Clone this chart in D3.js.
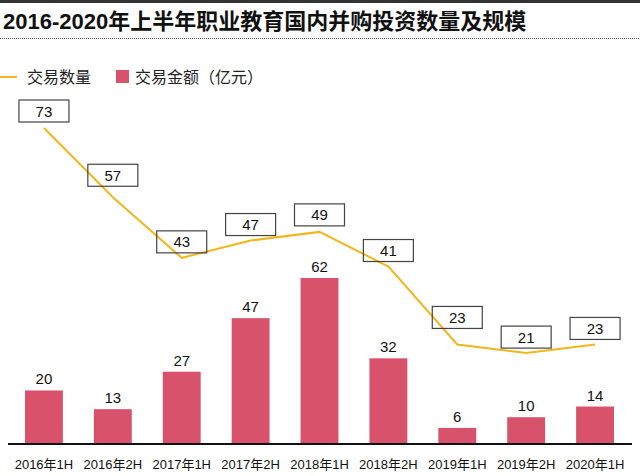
<!DOCTYPE html>
<html>
<head>
<meta charset="utf-8">
<script src="https://cdn.jsdelivr.net/npm/d3@7"></script>
<style>
  html, body { margin: 0; padding: 0; background: #fff; }
  svg { display: block; font-family: "Liberation Sans", Arial, "Noto Sans CJK SC", sans-serif; }
</style>
</head>
<body>
<svg id="chart" width="640" height="476"></svg>
<script>
const title = "2016-2020年上半年职业教育国内并购投资数量及规模";
const categories = ["2016年1H","2016年2H","2017年1H","2017年2H","2018年1H","2018年2H","2019年1H","2019年2H","2020年1H"];
const dealCount = [73, 57, 43, 47, 49, 41, 23, 21, 23];
const dealAmount = [20, 13, 27, 47, 62, 32, 6, 10, 14];
const seriesNames = ["交易数量", "交易金额（亿元）"];

const lineColor = "#F2B61B";
const barColor = "#D9526C";
// extra vertical offset of label boxes above points (hand placed in original)
const boxLift = [17, 22, 16, 16, 17, 16, 27, 16, 16];

const svg = d3.select("#chart");
const baseY = 444;

// top border and title
svg.append("rect").attr("x", 0).attr("y", 0).attr("width", 640).attr("height", 3).attr("fill", "#333");
svg.append("text").attr("x", 3).attr("y", 29).attr("font-size", 22).attr("font-weight", "bold")
  .attr("fill", "#111").text(title);
svg.append("line").attr("x1", 0).attr("x2", 640).attr("y1", 38.5).attr("y2", 38.5)
  .attr("stroke", "#555").attr("stroke-width", 1).attr("stroke-dasharray", "1,1");

// legend
const lg = svg.append("g");
lg.append("line").attr("x1", 0).attr("x2", 17).attr("y1", 77).attr("y2", 77).attr("stroke", lineColor).attr("stroke-width", 2);
lg.append("text").attr("x", 27).attr("y", 83).attr("font-size", 16).attr("fill", "#222").text(seriesNames[0]);
lg.append("rect").attr("x", 116).attr("y", 70).attr("width", 13).attr("height", 13).attr("fill", barColor);
lg.append("text").attr("x", 135).attr("y", 83).attr("font-size", 16).attr("fill", "#222").text(seriesNames[1]);

// scales
const x = d3.scaleBand().domain(categories).range([9.5, 629.5]).paddingInner(0.45).paddingOuter(0.225);
const yBar = d3.scaleLinear().domain([0, 62]).range([baseY, 278]);
const yLine = d3.scaleLinear().domain([0, 73]).range([baseY, 128]);
const cx = c => x(c) + x.bandwidth() / 2;

// bars
svg.append("g").selectAll("rect").data(categories).join("rect")
  .attr("x", c => x(c)).attr("width", x.bandwidth())
  .attr("y", (c, i) => yBar(dealAmount[i]))
  .attr("height", (c, i) => baseY - yBar(dealAmount[i]))
  .attr("fill", barColor);
svg.append("g").selectAll("text").data(categories).join("text")
  .attr("x", c => cx(c)).attr("y", (c, i) => yBar(dealAmount[i]) - 6)
  .attr("text-anchor", "middle").attr("font-size", 15).attr("fill", "#111")
  .text((c, i) => dealAmount[i]);

// axis
const axis = svg.append("g").attr("transform", `translate(0,${baseY})`)
  .call(d3.axisBottom(x).tickSize(0).tickPadding(16));
axis.select(".domain").attr("d", "M8,0H632").attr("stroke", "#111").attr("stroke-width", 2);
axis.selectAll("text").attr("font-size", 13).attr("fill", "#111")
  .attr("font-family", "'Liberation Sans', Arial, 'Noto Sans CJK SC', sans-serif");

// line
const line = d3.line().x(c => cx(c)).y((c, i) => yLine(dealCount[i]));
svg.append("path").datum(categories).attr("d", line)
  .attr("fill", "none").attr("stroke", lineColor).attr("stroke-width", 2);

// label boxes
const boxes = svg.append("g").selectAll("g").data(categories).join("g")
  .attr("transform", (c, i) => `translate(${cx(c)},${yLine(dealCount[i]) - boxLift[i]})`);
boxes.append("rect").attr("x", -25).attr("y", -11).attr("width", 50).attr("height", 22)
  .attr("fill", "#fff").attr("fill-opacity", 0).attr("stroke", "#444").attr("stroke-width", 1.2);
boxes.append("text").attr("text-anchor", "middle").attr("y", 5.5).attr("font-size", 15).attr("fill", "#111")
  .text((c, i) => dealCount[i]);
</script>
</body>
</html>
